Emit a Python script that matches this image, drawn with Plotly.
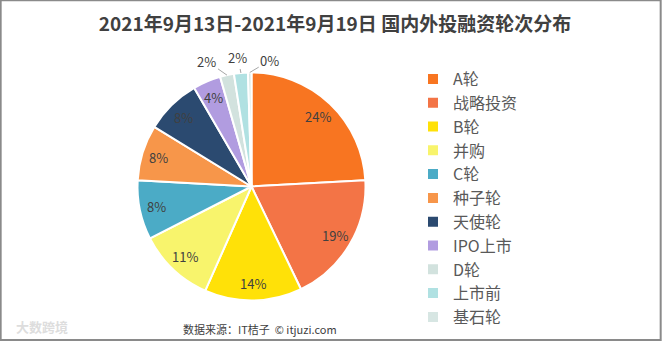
import math
import plotly.graph_objects as go

title = "2021年9月13日-2021年9月19日 国内外投融资轮次分布"
categories = ["A轮", "战略投资", "B轮", "并购", "C轮", "种子轮", "天使轮", "IPO上市", "D轮", "上市前", "基石轮"]
values = [49, 38, 28, 22, 17, 16, 16, 8, 4, 4, 1]
colors = ["#F87521", "#F37446", "#FFE108", "#F8F46C", "#4BABC6", "#F7964A", "#2B4A70",
          "#B19CE0", "#D2E2DE", "#B0E1E2", "#D7E6E3"]
n_inside = 8  # slices whose labels sit inside; the rest get leader-line labels
source = "数据来源：IT桔子  © itjuzi.com"

W, H = 662, 341
cx, cy, r = 251.5, 186.5, 114
FONT = "Noto Sans CJK SC, sans-serif"
LABEL_R = 0.85

fig = go.Figure(go.Pie(
    labels=categories,
    values=values,
    sort=False,
    direction="clockwise",
    rotation=0,
    marker=dict(colors=colors, line=dict(color="white", width=2)),
    textinfo="none",
    domain=dict(x=[(cx - r) / W, (cx + r) / W], y=[(H - cy - r) / H, (H - cy + r) / H]),
    hoverinfo="label+percent",
))

# percent labels placed at each slice's mid-angle (computed from the data)
total = sum(values)
label_offsets = [(-20, -14), (-3, -15), (20, -12)]
annotations = []
cum = 0
for i, v in enumerate(values):
    mid = (cum + v / 2) / total * 2 * math.pi
    cum += v
    pct = f"{round(v / total * 100)}%"
    if i < n_inside:
        px = cx + LABEL_R * r * math.sin(mid)
        py = cy - LABEL_R * r * math.cos(mid)
        annotations.append(dict(
            text=pct, x=px / W, y=1 - py / H, xref="paper", yref="paper",
            xanchor="center", yanchor="middle", showarrow=False,
            font=dict(family=FONT, size=13, color="#404040")))
    else:
        ax, ay = label_offsets[i - n_inside]
        px = cx + r * math.sin(mid)
        py = cy - r * math.cos(mid)
        annotations.append(dict(
            text=pct, x=px / W, y=1 - py / H, xref="paper", yref="paper",
            showarrow=True, arrowhead=0, arrowwidth=1, arrowcolor="#A6A6A6",
            ax=ax, ay=ay, standoff=0,
            font=dict(family=FONT, size=13, color="#404040")))

annotations += [
    dict(text=source, x=260 / W, y=1 - 329 / H, xref="paper", yref="paper", xanchor="center",
         yanchor="middle", showarrow=False,
         font=dict(family=FONT, size=11, color="#404040")),
    dict(text="<b>大数跨境</b>", x=42 / W, y=1 - 326 / H, xref="paper", yref="paper", xanchor="center",
         yanchor="middle", showarrow=False,
         font=dict(family=FONT, size=13, color="#DDDDDD")),
]

fig.update_layout(
    width=W, height=H,
    margin=dict(l=0, r=0, t=0, b=0),
    paper_bgcolor="white",
    plot_bgcolor="white",
    title=dict(text="<b>" + title + "</b>", x=335 / W, xanchor="center", y=1 - 24 / H, yanchor="middle",
               font=dict(family=FONT, size=19, color="#404040")),
    legend=dict(x=413 / W, xanchor="left", y=1 - 62 / H, yanchor="top",
                font=dict(family=FONT, size=16, color="#595959"),
                bgcolor="rgba(0,0,0,0)", itemclick=False),
    shapes=[dict(type="rect", xref="paper", yref="paper", x0=0.001, y0=0.003, x1=0.998, y1=0.999,
                 line=dict(color="#8A8A8A", width=2), fillcolor="rgba(0,0,0,0)")],
    annotations=annotations,
)

fig.write_html("out.html")
